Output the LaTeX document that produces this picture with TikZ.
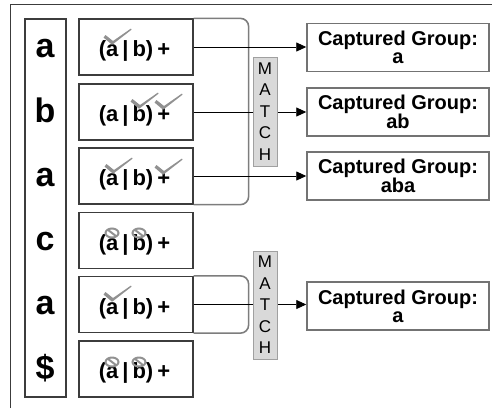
\documentclass[tikz,border=0pt]{standalone}
\usepackage{fontspec}
\setmainfont{Liberation Sans}
\usetikzlibrary{arrows.meta}

\definecolor{edgedark}{RGB}{60,60,60}
\definecolor{edgegray}{RGB}{115,115,115}
\definecolor{bracketgray}{RGB}{125,125,125}
\definecolor{matchfill}{RGB}{217,217,217}
\definecolor{matchedge}{RGB}{160,160,160}
\definecolor{markgray}{RGB}{145,145,145}

% gray tick over a letter, #1 = lowest point of the tick
\newcommand{\okmark}[1]{%
  \fill[markgray] (#1) ++(-9.5,-7.5) -- ++(2,-2.5) -- ++(7.5,6) -- ++(18,-12.5)
    -- ++(0.5,1.2) -- ++(-18,14) -- ++(-1.5,1) -- cycle;}
% gray ring with a slash, #1 = centre of the ring
\newcommand{\nomark}[1]{%
  \draw[markgray, line width=2pt] (#1) ellipse [x radius=6.5, y radius=4.5];
  \draw[markgray, line width=2pt] (#1) ++(-4.5,-3.5) -- ++(9,7);}
% the pattern, spaced as printed
\newcommand{\pat}{(a\kern4pt|\kern4pt b)\kern4pt+}

\tikzset{
  column/.style={draw=edgedark, line width=1.2pt, minimum width=41pt, minimum height=378pt, inner sep=0pt},
  letter/.style={anchor=base, inner sep=0pt, font=\fontsize{34}{34}\selectfont\bfseries},
  patbox/.style={draw=edgedark, line width=1.2pt, minimum width=114pt, minimum height=56pt, inner sep=0pt},
  pattext/.style={anchor=base, inner sep=0pt, font=\fontsize{22}{22}\selectfont\bfseries},
  capbox/.style={draw=edgegray, line width=1.5pt, minimum width=182pt, minimum height=48pt, inner sep=0pt,
    align=center, font=\fontsize{20}{18.3}\selectfont\bfseries},
  matchbox/.style={draw=matchedge, fill=matchfill, line width=1pt, minimum width=24pt, inner sep=0pt,
    align=center, font=\fontsize{17}{21.5}\selectfont},
  bracket/.style={draw=bracketgray, line width=1.6pt, rounded corners=8pt},
  flow/.style={-{Triangle[length=10pt,width=9pt]}, line width=0.9pt},
}

\begin{document}
\begin{tikzpicture}[x=1pt,y=1pt,yscale=-1,xscale=1]
\useasboundingbox (0,0) rectangle (492,408);

% outer frame, cut by the page on the right and at the bottom
\draw[edgedark, line width=1pt] (10,408) -- (10,4) -- (492,4);

% input string
\node[column] (col) at (45.5,208) {};
\node[letter] (l1) at (45,57) {a};
\node[letter] (l2) at (45,122) {b};
\node[letter] (l3) at (45,186) {a};
\node[letter] (l4) at (45,250.5) {c};
\node[letter] (l5) at (45,314.5) {a};
\node[letter] (l6) at (45,379) {\$};

% pattern at each step
\node[patbox] (p1) at (136,47) {};
\node[patbox] (p2) at (136,112) {};
\node[patbox] (p3) at (136,176) {};
\node[patbox] (p4) at (136,240.5) {};
\node[patbox] (p5) at (136,304.5) {};
\node[patbox] (p6) at (136,369) {};
\node[pattext] (t1) at (134.5,56.5) {\pat};
\node[pattext] (t2) at (134.5,121.5) {\pat};
\node[pattext] (t3) at (134.5,185.5) {\pat};
\node[pattext] (t4) at (134.5,250) {\pat};
\node[pattext] (t5) at (134.5,314) {\pat};
\node[pattext] (t6) at (134.5,378.5) {\pat};

% captured groups
\node[capbox] (c1) at (398,47.5) {Captured Group:\\a};
\node[capbox] (c2) at (398,112) {Captured Group:\\ab};
\node[capbox] (c3) at (398,176) {Captured Group:\\aba};
\node[capbox] (c4) at (398,306) {Captured Group:\\a};

% brackets round the matching steps
\draw[bracket] (p1.north east) -- ++(55,0) |- (p3.south east);
\draw[bracket] (p5.north east) -- ++(55,0) |- (p5.south east);

% arrows
\draw[flow] (p1.east) -- (p1.east -| c1.west);
\draw[flow] (p2.east) -- (p2.east -| c2.west);
\draw[flow] (p3.east) -- (p3.east -| c3.west);
\draw[flow] (p5.east) -- (p5.east -| c4.west);

% match labels
\node[matchbox, minimum height=109pt] (m1) at (265,111.5) {M\\A\\T\\C\\H};
\node[matchbox, minimum height=108pt] (m2) at (265,305) {M\\A\\T\\C\\H};

% marks
\okmark{113,45}
\okmark{140,109}
\okmark{164,110}
\okmark{114,174}
\okmark{164,175}
\okmark{113,302}
\nomark{112,233}
\nomark{139,233}
\nomark{112,362}
\nomark{139,362}

\end{tikzpicture}
\end{document}
